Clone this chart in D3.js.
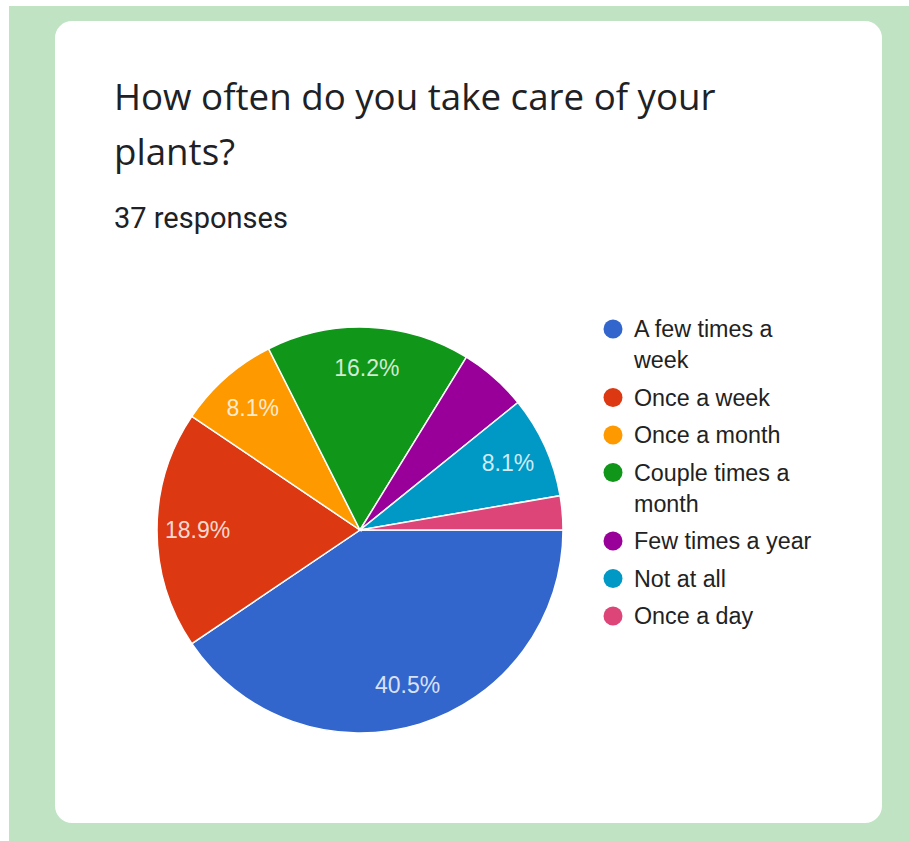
<!DOCTYPE html>
<html>
<head>
<meta charset="utf-8">
<script src="https://cdn.jsdelivr.net/npm/d3@7"></script>
<style>
  html, body { margin: 0; padding: 0; background: #ffffff; }
  svg { display: block; }
</style>
</head>
<body>
<svg id="chart" width="909" height="841"></svg>
<script>
// Survey answers (37 responses)
const categories = [
  "A few times a week",
  "Once a week",
  "Once a month",
  "Couple times a month",
  "Few times a year",
  "Not at all",
  "Once a day"
];
const counts = [15, 7, 3, 6, 2, 3, 1];
const colors = ["#3366cc", "#dc3912", "#ff9900", "#109618", "#990099", "#0099c6", "#dd4477"];
// Legend text as wrapped in the legend column
const legendLines = [
  ["A few times a", "week"],
  ["Once a week"],
  ["Once a month"],
  ["Couple times a", "month"],
  ["Few times a year"],
  ["Not at all"],
  ["Once a day"]
];
const titleLines = ["How often do you take care of your", "plants?"];
const totalResponses = 37;

const svg = d3.select("#chart");

// page background and card
svg.append("rect").attr("x", 0).attr("y", 0).attr("width", 909).attr("height", 841).attr("fill", "#ffffff");
svg.append("rect").attr("x", 9).attr("y", 6).attr("width", 900).attr("height", 835).attr("fill", "#c0e3c4");
svg.append("rect").attr("x", 55).attr("y", 21).attr("width", 827).attr("height", 802)
  .attr("rx", 17).attr("fill", "#ffffff");

// title and response count
const title = svg.append("text")
  .attr("x", 114).attr("y", 110)
  .attr("font-family", "'Open Sans', Roboto, sans-serif")
  .attr("font-size", 36.7)
  .attr("fill", "#202124");
titleLines.forEach((t, i) => {
  title.append("tspan").attr("x", 114).attr("y", 110 + i * 55).text(t);
});
svg.append("text")
  .attr("x", 114).attr("y", 228)
  .attr("font-family", "Roboto, 'Open Sans', sans-serif")
  .attr("font-size", 29)
  .attr("fill", "#202124")
  .text(totalResponses + " responses");

// pie
const cx = 360, cy = 530, r = 203;
const data = categories.map((c, i) => ({ name: c, value: counts[i], color: colors[i] }));
const pie = d3.pie().sort(null).value(d => d.value)
  .startAngle(Math.PI / 2).endAngle(Math.PI / 2 + 2 * Math.PI);
const arcs = pie(data);
const arc = d3.arc().innerRadius(0).outerRadius(r);
const labelArc = d3.arc().innerRadius(r * 0.8).outerRadius(r * 0.8);

const g = svg.append("g").attr("transform", `translate(${cx},${cy})`);
g.selectAll("path.slice")
  .data(arcs)
  .join("path")
  .attr("class", "slice")
  .attr("d", arc)
  .attr("fill", d => d.data.color)
  .attr("stroke", "#ffffff")
  .attr("stroke-width", 1.5);

const total = d3.sum(counts);
g.selectAll("text.pct")
  .data(arcs.filter(d => d.data.value / total >= 0.07))
  .join("text")
  .attr("class", "pct")
  .attr("transform", d => `translate(${labelArc.centroid(d)})`)
  .attr("text-anchor", "middle")
  .attr("dy", "0.35em")
  .attr("font-family", "'Liberation Sans', Arial, sans-serif")
  .attr("font-size", 23)
  .attr("fill", "#ffffff")
  .attr("fill-opacity", 0.82)
  .text(d => (d.data.value / total * 100).toFixed(1) + "%");

// legend
const legendX = 613;
const legendStartY = 329;
const entryGap = 37.5;
const lineGap = 31;
let y = legendStartY;
const legend = svg.append("g");
legendLines.forEach((lines, i) => {
  legend.append("circle")
    .attr("cx", legendX).attr("cy", y).attr("r", 9.5)
    .attr("fill", colors[i]);
  const t = legend.append("text")
    .attr("font-family", "'Liberation Sans', Arial, sans-serif")
    .attr("font-size", 23.3)
    .attr("fill", "#222222");
  lines.forEach((ln, j) => {
    t.append("tspan").attr("x", legendX + 21).attr("y", y + j * lineGap).attr("dy", "0.35em").text(ln);
  });
  y += entryGap + (lines.length - 1) * lineGap;
});
</script>
</body>
</html>
